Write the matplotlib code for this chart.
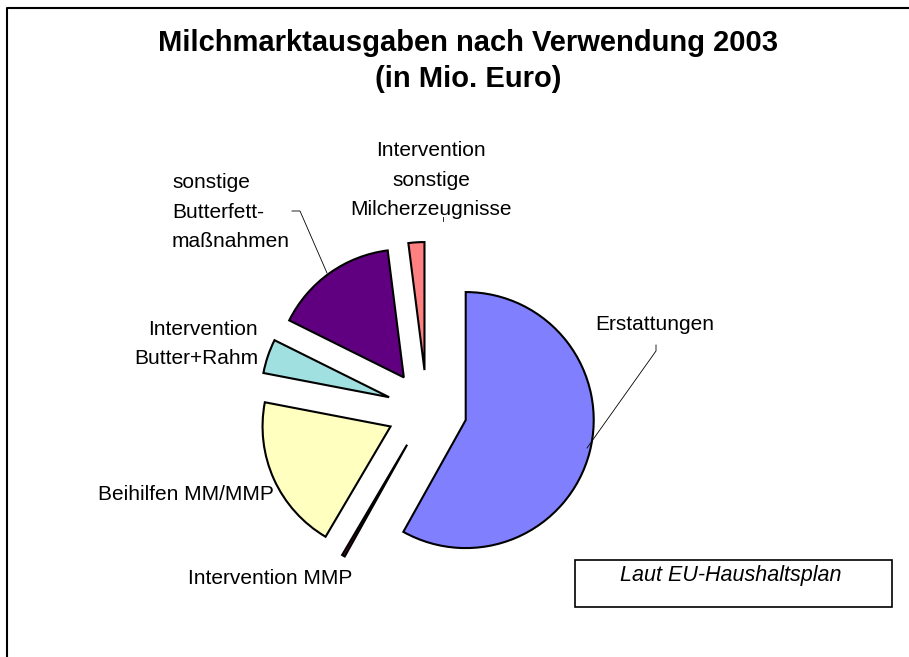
import matplotlib
matplotlib.use("Agg")
import matplotlib.pyplot as plt
from matplotlib.patches import Rectangle

plt.rcParams['font.family'] = ['Liberation Sans', 'DejaVu Sans']

# Data (Mio. Euro)
categories = ["Erstattungen", "Intervention MMP", "Beihilfen MM/MMP",
              "Intervention\nButter+Rahm", "sonstige\nButterfett-\nmaßnahmen",
              "Intervention\nsonstige\nMilcherzeugnisse"]
values = [1560, 10, 525, 116, 420, 54]
colors = ["#8080FF", "#660033", "#FFFFC0", "#A0E0E0", "#600080", "#FF8080"]

W, H = 909, 657
fig = plt.figure(figsize=(W / 100, H / 100), dpi=100)
ax = fig.add_axes([0, 0, 1, 1])

def Y(py):
    return H - py

cx, cy, r = 427, 410, 128
ax.pie(values, colors=colors, startangle=90, counterclock=False,
       center=(cx, Y(cy)), radius=r, explode=[40] * len(values),
       wedgeprops=dict(edgecolor='black', linewidth=1.5, joinstyle='miter'),
       frame=True)
ax.set_xlim(0, W)
ax.set_ylim(0, H)
ax.set_aspect('equal')
ax.axis('off')

# frame
ax.plot([7, 7, W + 5], [Y(H + 5), Y(8), Y(8)], color='black', lw=1.5,
        solid_capstyle='butt', clip_on=False)

fs = 15
ls = 1.72
# labels
ax.text(655, Y(325), categories[0], ha='center', va='center', fontsize=fs)
ax.text(270, Y(579), categories[1], ha='center', va='center', fontsize=fs)
ax.text(274, Y(495), categories[2], ha='right', va='center', fontsize=fs)
ax.text(258, Y(344), categories[3], ha='right', va='center', fontsize=fs,
        linespacing=ls)
ax.text(172, Y(212), categories[4], ha='left', va='center', fontsize=fs,
        linespacing=ls)
ax.text(431, Y(180), categories[5], ha='center', va='center', fontsize=fs,
        linespacing=ls)

# leader lines
ax.plot([587, 656, 656], [Y(448), Y(351), Y(345)], color='black', lw=0.6)
ax.plot([292, 300, 327], [Y(211), Y(211), Y(273)], color='black', lw=0.6)
ax.plot([443, 443], [Y(217), Y(221)], color='black', lw=0.6)

# title
ax.text(468, Y(43), "Milchmarktausgaben nach Verwendung 2003", ha='center',
        va='center', fontsize=21, fontweight='bold')
ax.text(468, Y(79), "(in Mio. Euro)", ha='center', va='center',
        fontsize=21, fontweight='bold')

# note box
ax.add_patch(Rectangle((575, Y(607)), 317, 47, fill=False, edgecolor='black', lw=1.2))
ax.text(731, Y(576), "Laut EU-Haushaltsplan", ha='center', va='center',
        fontsize=15.5, style='italic')

fig.savefig("out.png", dpi=100, facecolor='white')
